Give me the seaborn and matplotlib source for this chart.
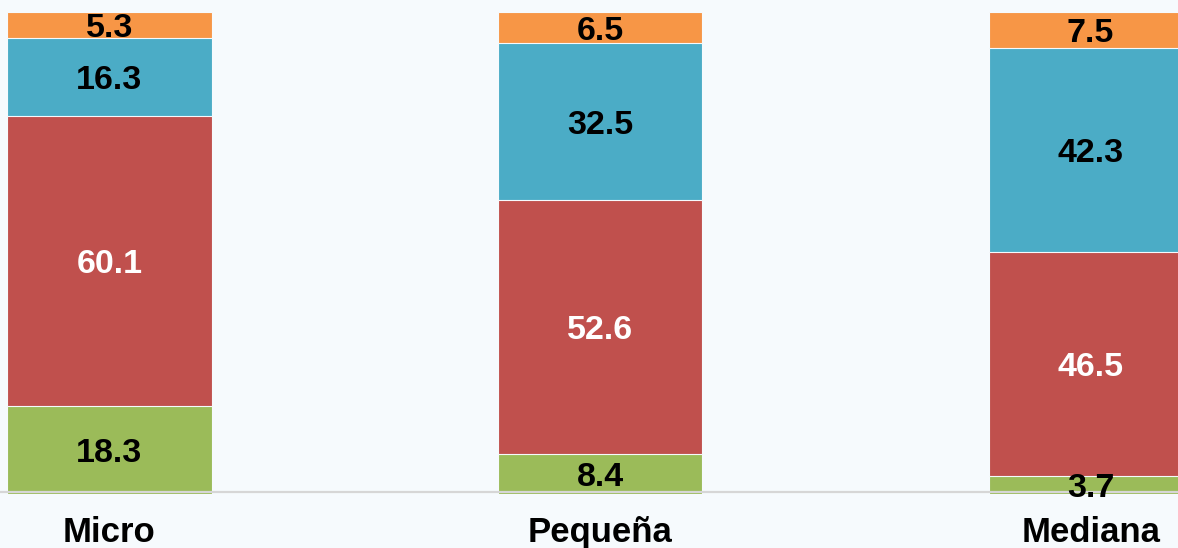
import matplotlib
matplotlib.use("Agg")
import matplotlib.pyplot as plt
import seaborn as sns
import numpy as np
import pandas as pd

categories = ["Micro", "Pequeña", "Mediana"]
green_vals = [18.3, 8.4, 3.7]
red_vals = [60.1, 52.6, 46.5]
blue_vals = [16.3, 32.5, 42.3]
orange_vals = [5.3, 6.5, 7.5]

series = [green_vals, red_vals, blue_vals, orange_vals]
colors = ["#9BBB59", "#C0504D", "#4BACC6", "#F79646"]
text_colors = ["black", "white", "black", "black"]

sns.set_theme(style="white")
plt.rcParams["font.family"] = ["Liberation Sans", "DejaVu Sans"]

bg = "#f6fafd"
fig = plt.figure(figsize=(11.78, 5.48), dpi=100, facecolor=bg)
ax = fig.add_axes([0, 1 - 494 / 548, 1, (494 - 12) / 548])
ax.set_facecolor(bg)

cum = np.cumsum(np.array(series), axis=0)
# draw from the top down so each lower segment overlays the taller bar
for i in range(len(series) - 1, -1, -1):
    df = pd.DataFrame({"cat": categories, "val": cum[i]})
    sns.barplot(data=df, x="cat", y="val", order=categories, color=colors[i],
                width=0.416, edgecolor=bg, linewidth=0.8, saturation=1, ax=ax,
                zorder=2)

for i, vals in enumerate(series):
    bottoms = cum[i] - np.array(vals)
    for j, v in enumerate(vals):
        ax.text(j, bottoms[j] + v / 2, f"{v:.1f}", ha="center", va="center_baseline",
                fontsize=24.5, fontweight="bold", color=text_colors[i], zorder=5)

ax.axhline(0.45, color="#d6d6d6", lw=1.6, zorder=4)

ax.set_xlim(-0.2232, 2.178)
ax.set_ylim(0, 100)
ax.set_xlabel("")
ax.set_ylabel("")
ax.set_yticks([])
ax.set_xticks(range(len(categories)))
ax.set_xticklabels(categories, fontsize=25, fontweight="bold", color="black")
ax.tick_params(axis="x", length=0, pad=16)
for s in ax.spines.values():
    s.set_visible(False)

fig.savefig("out.png", dpi=100, facecolor=bg)
